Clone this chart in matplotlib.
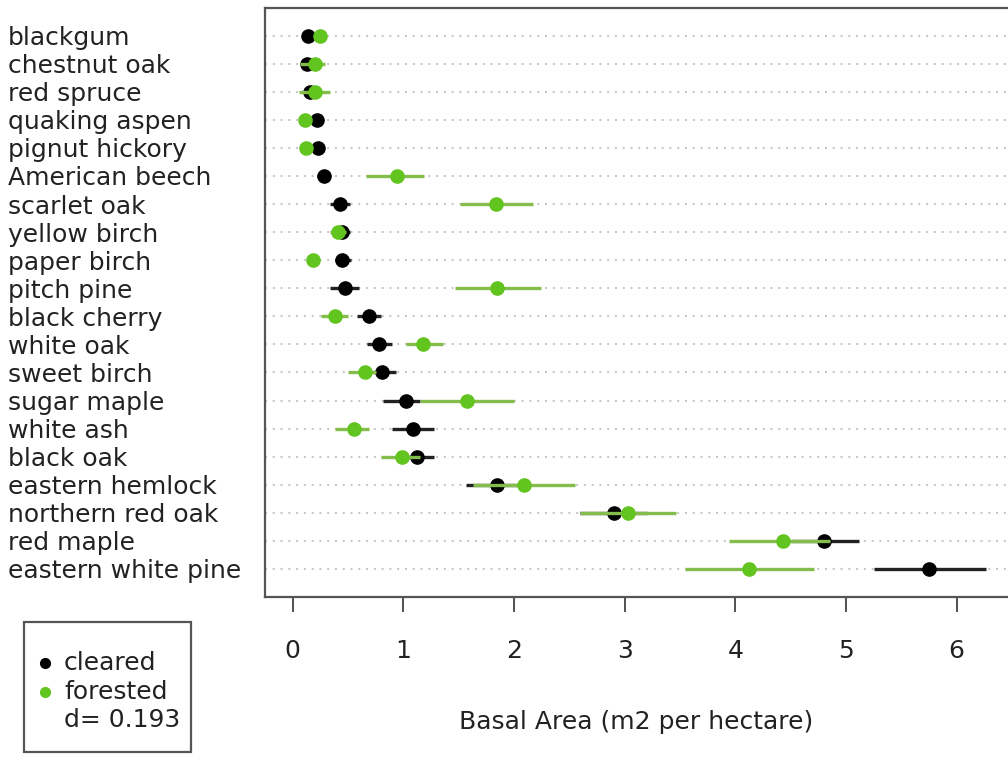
import numpy as np
import matplotlib
matplotlib.use('Agg')
import matplotlib.pyplot as plt
from matplotlib.patches import Rectangle
from matplotlib.lines import Line2D

species = ['blackgum', 'chestnut oak', 'red spruce', 'quaking aspen', 'pignut hickory',
           'American beech', 'scarlet oak', 'yellow birch', 'paper birch', 'pitch pine',
           'black cherry', 'white oak', 'sweet birch', 'sugar maple', 'white ash',
           'black oak', 'eastern hemlock', 'northern red oak', 'red maple',
           'eastern white pine']

cleared = [0.14, 0.13, 0.16, 0.22, 0.23, 0.28, 0.43, 0.45, 0.45, 0.47,
           0.69, 0.78, 0.81, 1.02, 1.09, 1.12, 1.85, 2.90, 4.80, 5.75]
cleared_lo = [0.10, 0.08, 0.10, 0.18, 0.19, 0.22, 0.34, 0.38, 0.38, 0.34,
              0.58, 0.67, 0.73, 0.82, 0.90, 0.95, 1.57, 2.60, 4.50, 5.25]
cleared_hi = [0.18, 0.18, 0.22, 0.26, 0.27, 0.34, 0.52, 0.52, 0.53, 0.60,
              0.80, 0.90, 0.93, 1.15, 1.28, 1.28, 2.10, 3.20, 5.12, 6.27]

forested = [0.25, 0.20, 0.20, 0.11, 0.12, 0.94, 1.84, 0.41, 0.18, 1.85,
            0.38, 1.18, 0.65, 1.58, 0.55, 0.99, 2.09, 3.03, 4.43, 4.12]
forested_lo = [0.22, 0.07, 0.06, 0.07, 0.08, 0.66, 1.51, 0.34, 0.15, 1.47,
               0.26, 1.02, 0.50, 1.15, 0.38, 0.80, 1.63, 2.60, 3.94, 3.55]
forested_hi = [0.28, 0.29, 0.34, 0.16, 0.16, 1.19, 2.17, 0.48, 0.21, 2.24,
               0.50, 1.36, 0.75, 2.00, 0.69, 1.15, 2.55, 3.46, 4.86, 4.71]

xticks = [0, 1, 2, 3, 4, 5, 6]
d_value = 0.193

W, H = 1008, 759
plt.rcParams['font.family'] = 'DejaVu Sans'
fig = plt.figure(figsize=(W / 100, H / 100), dpi=100)

def fx(x):
    return x / W

def fy(y):
    return 1 - y / H

# axes runs past the right edge, like the original
left, right, top, bottom = 265, 1034, 7.5, 597
ax = fig.add_axes([fx(left), fy(bottom), fx(right - left), (bottom - top) / H])

n = len(species)
ypos = np.arange(n, 0, -1)

green = '#62c41e'
green_bar = '#84bd4c'
ink = '#222222'

for y in ypos:
    ax.axhline(y, color='#c4c4c4', lw=1.4, ls=(0, (1, 3)), zorder=1)

c = np.array(cleared)
f = np.array(forested)
ax.hlines(ypos, cleared_lo, cleared_hi, color=ink, lw=2.4, zorder=2)
ax.plot(c, ypos, 'o', color='black', ms=9.5, zorder=3)
ax.hlines(ypos, forested_lo, forested_hi, color=green_bar, lw=2.4, zorder=4)
ax.plot(f, ypos, 'o', color=green, ms=9.5, zorder=5)

ax.set_xlim(-0.25, 6.7)
ax.set_ylim(0, n + 1)
ax.set_xticks(xticks)
ax.set_xticklabels([str(t) for t in xticks], fontsize=18, color=ink)
ax.tick_params(axis='x', length=11, width=1.2, color='#333333', pad=19)
ax.set_yticks(ypos)
ax.set_yticklabels(species, fontsize=18, color=ink)
ax.tick_params(axis='y', length=0, pad=(left - 8) * 0.72)
for lab in ax.get_yticklabels():
    lab.set_horizontalalignment('left')

for s in ax.spines.values():
    s.set_color('#555555')
    s.set_linewidth(1.6)

fig.text(fx(636), fy(722), 'Basal Area (m2 per hectare)', fontsize=18,
         color=ink, ha='center', va='center')

# legend box in the lower left
fig.add_artist(Rectangle((fx(24), fy(752)), fx(191 - 24), (752 - 622) / H,
                         transform=fig.transFigure, fill=False,
                         edgecolor='#555555', lw=1.6))
fig.add_artist(Line2D([fx(45)], [fy(663)], marker='o', color='black', ms=7,
                      transform=fig.transFigure))
fig.add_artist(Line2D([fx(45)], [fy(692)], marker='o', color=green, ms=7,
                      transform=fig.transFigure))
fig.text(fx(64), fy(663), 'cleared', fontsize=18, color=ink, va='center')
fig.text(fx(64), fy(692), 'forested', fontsize=18, color=ink, va='center')
fig.text(fx(64), fy(720), 'd= %.3f' % d_value, fontsize=18, color=ink, va='center')

fig.savefig('out.png', dpi=100)
